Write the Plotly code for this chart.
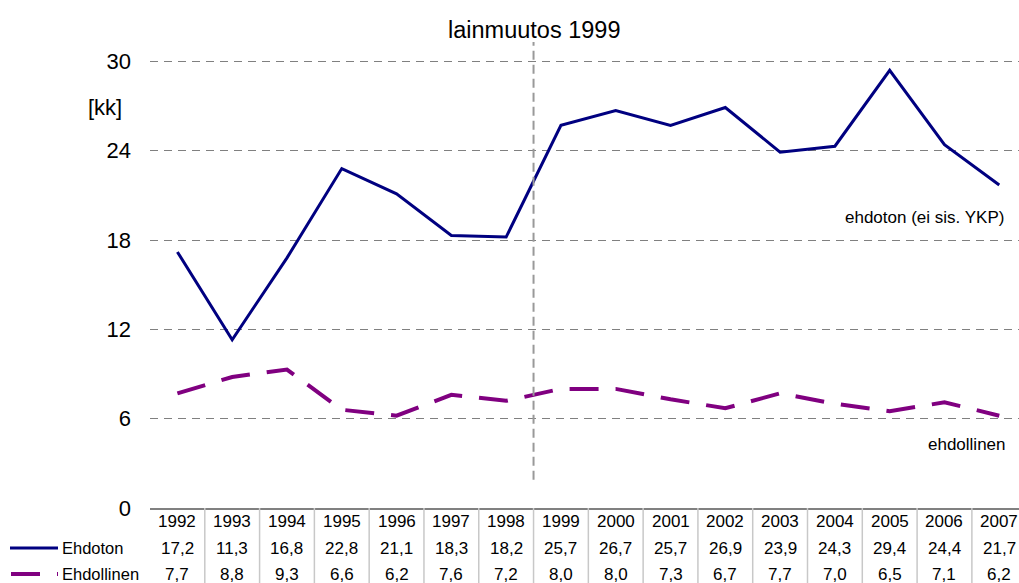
import plotly.graph_objects as go

years = ['1992', '1993', '1994', '1995', '1996', '1997', '1998', '1999',
         '2000', '2001', '2002', '2003', '2004', '2005', '2006', '2007']
ehdoton = [17.2, 11.3, 16.8, 22.8, 21.1, 18.3, 18.2, 25.7,
           26.7, 25.7, 26.9, 23.9, 24.3, 29.4, 24.4, 21.7]
ehdollinen = [7.7, 8.8, 9.3, 6.6, 6.2, 7.6, 7.2, 8.0,
              8.0, 7.3, 6.7, 7.7, 7.0, 6.5, 7.1, 6.2]
y_ticks = [0, 6, 12, 18, 24, 30]

FONT = 'Liberation Sans, Arial, sans-serif'
NAVY = '#000080'
PURPLE = '#800080'
W, H = 1019, 583
ML, MT, MB = 150, 42, 75
PW, PH = W - ML, H - MT - MB


def px_x(x):
    # target pixel -> paper x
    return (x - ML) / PW


def px_y(y):
    # target pixel -> paper y
    return (H - MB - y) / PH


def txt(x, y, text, size, xref='paper', anchor='center'):
    fig.add_annotation(x=x, xref=xref, y=px_y(y), yref='paper', text=text,
                       xanchor=anchor, yanchor='middle', showarrow=False,
                       font=dict(size=size, color='black', family=FONT))


fig = go.Figure()

fig.add_trace(go.Scatter(x=years, y=ehdoton, mode='lines', name='Ehdoton',
                         line=dict(color=NAVY, width=3)))
fig.add_trace(go.Scatter(x=years, y=ehdollinen, mode='lines', name='Ehdollinen',
                         line=dict(color=PURPLE, width=4, dash='29px,17px')))

# law change marker
fig.add_shape(type='line', xref='x', yref='y', x0=6.5, x1=6.5, y0=1.9, y1=31.3,
              line=dict(color='#999999', width=2, dash='9px,5px'))
txt(6.5, 30, 'lainmuutos 1999', 23.5, xref='x')
txt(px_x(105), 108, '[kk]', 22)
txt(px_x(1006), 217, 'ehdoton (ei sis. YKP)', 17, anchor='right')
txt(px_x(1008), 444, 'ehdollinen', 17, anchor='right')

# data table under the axis
fmt = lambda vals: [f'{v:.1f}'.replace('.', ',') for v in vals]
for labels, ypx in [(years, 521), (fmt(ehdoton), 548), (fmt(ehdollinen), 574)]:
    for i, lab in enumerate(labels):
        txt(i, ypx, lab, 17, xref='x')

for k in range(1, len(years)):
    fig.add_shape(type='line', xref='x', yref='paper', x0=k - 0.5, x1=k - 0.5,
                  y0=0, y1=px_y(583), line=dict(color='#c8c8c8', width=1.5))

# legend keys
fig.add_shape(type='line', xref='paper', yref='paper', x0=px_x(10), x1=px_x(58),
              y0=px_y(548), y1=px_y(548), line=dict(color=NAVY, width=3))
fig.add_shape(type='line', xref='paper', yref='paper', x0=px_x(11), x1=px_x(40),
              y0=px_y(574), y1=px_y(574), line=dict(color=PURPLE, width=4))
fig.add_shape(type='line', xref='paper', yref='paper', x0=px_x(57), x1=px_x(58),
              y0=px_y(574), y1=px_y(574), line=dict(color=PURPLE, width=4))
txt(px_x(60), 548, 'Ehdoton', 16.5, anchor='left')
txt(px_x(60), 574, 'Ehdollinen', 16.5, anchor='left')

fig.update_layout(
    width=W, height=H,
    margin=dict(l=ML, r=0, t=MT, b=MB),
    paper_bgcolor='white', plot_bgcolor='white',
    showlegend=False,
    font=dict(family=FONT, color='black'),
    xaxis=dict(type='category', range=[-0.5, 15.36], showticklabels=False,
               showgrid=False, zeroline=False, showline=True,
               linecolor='#808080', linewidth=1.5, ticks=''),
    yaxis=dict(range=[0, 31.3], tickvals=y_ticks, showgrid=True,
               gridcolor='#808080', gridwidth=1, griddash='8px,6px',
               zeroline=False, showline=False, ticks='',
               tickfont=dict(size=22, color='black', family=FONT),
               ticklabelstandoff=18),
)

# drop the page margin/scrollbars so the figure fills the window exactly
fig.write_html('out.html', config={'displayModeBar': False},
               post_script="document.body.style.margin='0';"
                           "document.body.style.overflow='hidden';")
